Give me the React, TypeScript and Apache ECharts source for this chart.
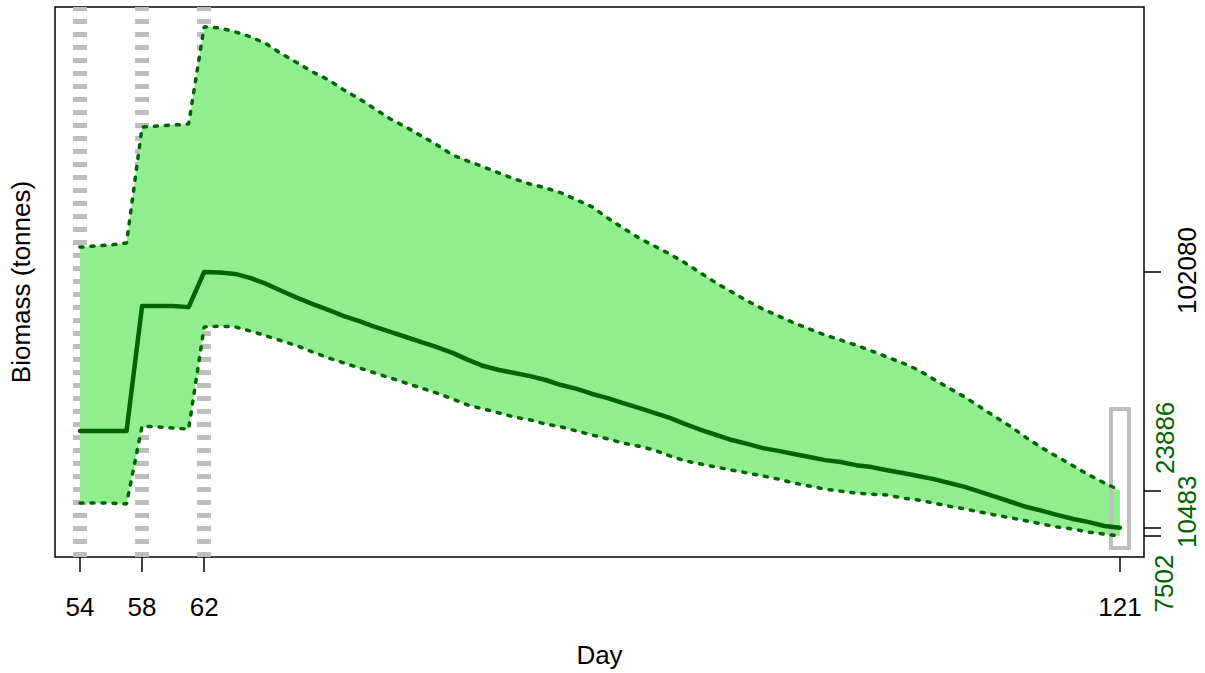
import React, { useEffect, useRef } from "react";
import * as echarts from "echarts";

const days = [
  54, 55, 56, 57, 58, 59, 60, 61, 62, 63, 64, 65, 66, 67, 68, 69, 70, 71, 72, 73,
  74, 75, 76, 77, 78, 79, 80, 81, 82, 83, 84, 85, 86, 87, 88, 89, 90, 91, 92, 93,
  94, 95, 96, 97, 98, 99, 100, 101, 102, 103, 104, 105, 106, 107, 108, 109, 110,
  111, 112, 113, 114, 115, 116, 117, 118, 119, 120, 121,
];

const upper = [
  111000, 111400, 111800, 112500,
  154000, 154400, 154700, 155100,
  189900, 189500, 188100, 186300, 183800, 180200, 177000, 173700, 170900, 167300,
  164100, 160500, 156900, 154000, 150800, 147600, 144000, 141800, 139700, 137500,
  135400, 133600, 132200, 130400, 127900, 125400, 121400, 117800, 114300, 111400,
  108500, 105300, 101700, 98100, 94900, 91700, 88800, 86300, 83800, 81700,
  79500, 77700, 75900, 73800, 71600, 69500, 67000, 63700, 60500, 57300,
  53700, 50100, 46600, 42600, 39000, 35800, 32600, 29400, 26500, 23886,
];

const median = [
  45100, 45100, 45100, 45100,
  89900, 89900, 89900, 89500,
  102080, 101900, 101400, 99900, 97800, 95300, 92800, 90600, 88500, 86300,
  84500, 82400, 80600, 78800, 77000, 75200, 73100, 70600, 68400, 67000,
  65900, 64800, 63400, 61600, 60200, 58400, 56900, 55100, 53400, 51600,
  49800, 47600, 45500, 43700, 41900, 40500, 39000, 38000, 36900, 35800,
  34700, 34000, 32900, 32200, 31100, 30100, 29000, 27900, 26500, 25100,
  23300, 21500, 19700, 17900, 16500, 15000, 13600, 12500, 11100, 10483,
];

const lower = [
  19300, 19300, 19300, 19000,
  46900, 46600, 46200, 45800,
  82400, 82700, 82400, 80900, 79200, 77400, 75600, 73400, 71300, 69500,
  67700, 65900, 64100, 62300, 60500, 58700, 56600, 54400, 53000, 51600,
  50100, 49100, 47600, 46600, 45100, 43700, 42300, 40800, 39700, 38300,
  36200, 34400, 33300, 32200, 31100, 30100, 29000, 27900, 26500, 25400,
  24300, 23600, 22900, 22500, 22200, 21100, 20400, 19300, 18200, 17200,
  16100, 15000, 14000, 12900, 11800, 10700, 10000, 8900, 8200, 7502,
];

const xTicks = [54, 58, 62, 121];
const rightTicks = [102080, 23886, 10483, 7502];
const markDays = [54, 58, 62];
const boxDays = [120.42, 121.58];
const boxValues = [53000, 3200];

export default function App() {
  const ref = useRef<HTMLDivElement>(null);

  useEffect(() => {
    if (!ref.current) return;
    const chart = echarts.init(ref.current, null, { renderer: "svg" });
    const font = "'Liberation Sans', Arial, Helvetica, sans-serif";
    const dark = "#006400";
    const pairs = (arr: number[]) => days.map((d, i) => [d, arr[i]]);
    const yMin = 0;
    const yMax = 197000;

    chart.setOption({
      animation: false,
      grid: {
        left: 55,
        right: 61,
        top: 7,
        bottom: 116,
        show: true,
        borderColor: "#000",
        borderWidth: 1.5,
        backgroundColor: "transparent",
      },
      xAxis: {
        type: "value",
        min: 52.39,
        max: 122.55,
        axisLine: { show: false },
        splitLine: { show: false },
        axisTick: {
          show: true,
          customValues: xTicks,
          length: 15,
          lineStyle: { color: "#000", width: 1.5 },
        },
        axisLabel: {
          customValues: xTicks,
          margin: 37,
          fontSize: 26,
          color: "#000",
          fontFamily: font,
        },
        name: "Day",
        nameLocation: "middle",
        nameGap: 85,
        nameTextStyle: { fontSize: 26, color: "#000", fontFamily: font },
      },
      yAxis: [
        {
          type: "value",
          min: yMin,
          max: yMax,
          position: "left",
          axisLine: { show: false },
          axisTick: { show: false },
          axisLabel: { show: false },
          splitLine: { show: false },
          name: "Biomass (tonnes)",
          nameLocation: "middle",
          nameGap: 21,
          nameTextStyle: { fontSize: 26, color: "#000", fontFamily: font },
        },
        {
          type: "value",
          min: yMin,
          max: yMax,
          position: "right",
          axisLine: { show: false },
          axisTick: {
            show: true,
            customValues: rightTicks,
            length: 17,
            lineStyle: { color: "#000", width: 1.5 },
          },
          axisLabel: { show: false },
          splitLine: { show: false },
        },
      ],
      series: [
        {
          name: "guides",
          type: "line",
          data: [],
          symbol: "none",
          silent: true,
          z: 1,
          markLine: {
            z: 1,
            silent: true,
            symbol: ["none", "none"],
            label: { show: false },
            lineStyle: { color: "#BEBEBE", width: 14, type: [5, 8] },
            emphasis: { disabled: true },
            data: markDays.map((d) => ({ xAxis: d })),
          },
        },
        {
          name: "band",
          type: "custom",
          silent: true,
          z: 2,
          data: [[days[0], upper[0]]],
          renderItem: (_params: any, api: any) => {
            const top = days.map((d, i) => api.coord([d, upper[i]]));
            const bottom = days
              .map((d, i) => api.coord([d, lower[i]]))
              .reverse();
            return {
              type: "polygon",
              shape: { points: top.concat(bottom) },
              style: { fill: "#90EE90", stroke: "none" },
            };
          },
        },
        {
          name: "upper",
          type: "line",
          data: pairs(upper),
          symbol: "none",
          silent: true,
          z: 3,
          lineStyle: { color: dark, width: 3.5, type: [3, 8], cap: "round" },
        },
        {
          name: "lower",
          type: "line",
          data: pairs(lower),
          symbol: "none",
          silent: true,
          z: 3,
          lineStyle: { color: dark, width: 3.5, type: [3, 8], cap: "round" },
        },
        {
          name: "median",
          type: "line",
          data: pairs(median),
          symbol: "none",
          silent: true,
          z: 4,
          lineStyle: { color: dark, width: 4.5, cap: "round", join: "round" },
          markArea: {
            z: 3,
            silent: true,
            label: { show: false },
            itemStyle: {
              color: "rgba(0,0,0,0)",
              borderColor: "#BEBEBE",
              borderWidth: 4,
            },
            emphasis: { disabled: true },
            data: [
              [
                { coord: [boxDays[0], boxValues[0]] },
                { coord: [boxDays[1], boxValues[1]] },
              ],
            ],
          },
        },
      ],
    });

    const labelX = [1187, 1164.5, 1187, 1164];
    const labelDy = [-1.5, -52.5, -16, 47.5];
    const labelColor = ["#000", dark, dark, dark];
    const graphics = rightTicks.map((v, i) => {
      const py = chart.convertToPixel({ yAxisIndex: 1 }, v) as number;
      return {
        type: "text",
        x: labelX[i],
        y: py + labelDy[i],
        rotation: Math.PI / 2,
        silent: true,
        style: {
          text: String(v),
          fontSize: 26,
          fontFamily: font,
          fill: labelColor[i],
          align: "center",
          verticalAlign: "middle",
        },
      };
    });
    chart.setOption({ graphic: graphics });

    return () => {
      chart.dispose();
    };
  }, []);

  return (
    <div
      ref={ref}
      style={{ position: "fixed", left: 0, top: 0, width: 1205, height: 673, background: "#fff" }}
    />
  );
}
